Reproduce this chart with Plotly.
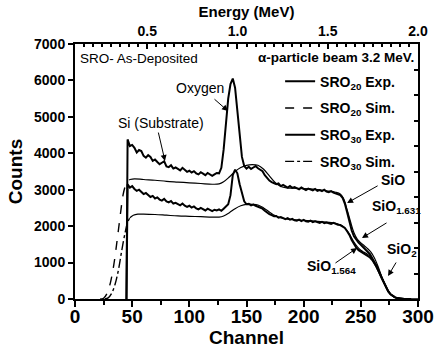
import plotly.graph_objects as go

# ---------------- data ----------------
exp_ch = [45] + list(range(46, 296, 2))

sro20_exp = [0,
    # 46-124
    4380, 4200, 4230, 4150, 4020, 4090, 4060, 3930, 3880, 3950,
    3900, 3790, 3830, 3760, 3700, 3740, 3780, 3640, 3620, 3670,
    3580, 3610, 3560, 3530, 3600, 3540, 3490, 3520, 3470, 3510,
    3450, 3420, 3480, 3440, 3400, 3460, 3430, 3380, 3420, 3460,
    # 126-144
    3450, 3600, 4100, 4900, 5500, 5900, 6050, 5800, 5100, 4400,
    # 146-164
    3900, 3650, 3580, 3630, 3570, 3610, 3650, 3590, 3560, 3510,
    # 166-230
    3400, 3310, 3250, 3210, 3190, 3150, 3170, 3100, 3130, 3090,
    3060, 3100, 3050, 3070, 3030, 3010, 3060, 3020, 2990, 3030,
    3000, 2980, 3020, 2970, 2990, 2960, 3000, 2950, 2930, 2960,
    2920, 2900, 2880,
    # 232-294
    2850, 2780, 2620, 2380, 2100, 1880, 1720, 1620, 1550, 1490,
    1430, 1370, 1310, 1230, 1120, 1000, 870, 730, 590, 450,
    320, 210, 130, 80, 45, 25, 12, 5, 2, 0, 0, 0]

sro30_exp = [0,
    # 46-124
    3150, 3060, 3100, 3020, 2970, 3000, 2930, 2880, 2910, 2860,
    2800, 2830, 2760, 2790, 2730, 2700, 2750, 2680, 2650, 2690,
    2620, 2640, 2600, 2570, 2620, 2560, 2530, 2560, 2510, 2540,
    2490, 2460, 2500, 2470, 2430, 2480, 2440, 2410, 2450, 2430,
    # 126-144
    2460, 2420, 2480, 2530, 2600, 2850, 3400, 3550, 3450, 3150,
    # 146-164
    2880, 2680, 2600, 2610, 2570, 2590, 2560, 2530, 2520, 2480,
    # 166-230
    2420, 2370, 2330, 2300, 2270, 2280, 2230, 2250, 2210, 2190,
    2220, 2180, 2200, 2160, 2150, 2180, 2140, 2170, 2130, 2120,
    2150, 2110, 2130, 2100, 2090, 2120, 2080, 2100, 2070, 2060,
    2090, 2060, 2040,
    # 232-294
    2030, 2000, 1950, 1860, 1760, 1620, 1500, 1410, 1340, 1300,
    1260, 1230, 1190, 1140, 1070, 980, 870, 730, 590, 450,
    320, 210, 130, 80, 45, 25, 12, 5, 2, 0, 0, 0]

sro20_sim_ch = [22, 25, 28, 31, 34, 37, 40, 42, 44, 46, 48, 52, 60, 70, 80, 90,
                100, 110, 120, 126, 130, 135, 140, 145, 150, 155, 160, 165, 170,
                175, 180, 185, 190, 200, 210, 220, 228, 232, 235, 238, 241, 244,
                247, 250, 253, 256, 259, 262, 265, 268, 271, 274, 277, 280, 284,
                290, 300]
sro20_sim = [0, 20, 150, 450, 950, 1650, 2400, 2850, 3100, 3230, 3280, 3300, 3280,
             3260, 3230, 3210, 3190, 3170, 3150, 3160, 3220, 3350, 3500, 3610,
             3670, 3690, 3670, 3560, 3380, 3200, 3090, 3050, 3040, 3030, 3010,
             2970, 2930, 2880, 2750, 2450, 2120, 1820, 1640, 1540, 1460, 1380,
             1280, 1120, 900, 640, 400, 220, 100, 40, 10, 0, 0]

sro30_sim_ch = [26, 29, 32, 35, 38, 41, 44, 46, 48, 51, 55, 60, 70, 80, 90, 100,
                110, 120, 126, 130, 135, 140, 145, 150, 155, 160, 165, 170, 175,
                180, 185, 190, 200, 210, 220, 228, 232, 235, 238, 241, 244, 247,
                250, 253, 256, 259, 262, 265, 268, 271, 274, 277, 280, 284, 290, 300]
sro30_sim = [0, 30, 150, 400, 800, 1350, 1850, 2100, 2230, 2300, 2330, 2330, 2320,
             2300, 2280, 2270, 2260, 2250, 2250, 2280, 2370, 2480, 2560, 2600,
             2600, 2580, 2500, 2390, 2290, 2230, 2200, 2180, 2160, 2140, 2110,
             2080, 2040, 1980, 1880, 1730, 1560, 1430, 1340, 1280, 1220, 1150,
             1020, 850, 620, 400, 220, 100, 40, 10, 0, 0]

rise_end = 48  # simulated edge drawn dashed up to this channel

x_ticks = [0, 50, 100, 150, 200, 250, 300]
y_ticks = [0, 1000, 2000, 3000, 4000, 5000, 6000, 7000]
e_ticks = [0.5, 1.0, 1.5, 2.0]
e_range = [0.1, 2.0]

FONT = "Liberation Sans, Arial, sans-serif"

def split(ch, v, edge):
    a = [(c, y) for c, y in zip(ch, v) if c <= edge]
    b = [(c, y) for c, y in zip(ch, v) if c >= edge]
    return ([p[0] for p in a], [p[1] for p in a]), ([p[0] for p in b], [p[1] for p in b])

fig = go.Figure()

fig.add_trace(go.Scatter(x=exp_ch, y=sro20_exp, mode="lines",
                         line=dict(color="black", width=2),
                         name="<b>SRO<sub>20</sub> Exp.</b>", legendgroup="a"))
(r_x, r_y), (p_x, p_y) = split(sro20_sim_ch, sro20_sim, rise_end)
fig.add_trace(go.Scatter(x=r_x, y=r_y, mode="lines", line_shape="spline",
                         line=dict(color="black", width=1.4, dash="dash"),
                         name="<b>SRO<sub>20</sub> Sim.</b>", legendgroup="b"))
fig.add_trace(go.Scatter(x=p_x, y=p_y, mode="lines", line_shape="spline",
                         line=dict(color="black", width=1.2),
                         showlegend=False, legendgroup="b"))
fig.add_trace(go.Scatter(x=exp_ch, y=sro30_exp, mode="lines",
                         line=dict(color="black", width=2),
                         name="<b>SRO<sub>30</sub> Exp.</b>", legendgroup="c"))
(r_x, r_y), (p_x, p_y) = split(sro30_sim_ch, sro30_sim, rise_end)
fig.add_trace(go.Scatter(x=r_x, y=r_y, mode="lines", line_shape="spline",
                         line=dict(color="black", width=1.4, dash="dashdot"),
                         name="<b>SRO<sub>30</sub> Sim.</b>", legendgroup="d"))
fig.add_trace(go.Scatter(x=p_x, y=p_y, mode="lines", line_shape="spline",
                         line=dict(color="black", width=1.2),
                         showlegend=False, legendgroup="d"))

# helper trace so the top/right axes are drawn
fig.add_trace(go.Scatter(x=e_range, y=[None, None], xaxis="x2", yaxis="y2",
                         mode="lines", showlegend=False, hoverinfo="skip"))

axis_common = dict(showline=True, linecolor="black", linewidth=2, showgrid=False,
                   zeroline=False, tickcolor="black", tickwidth=1.5, automargin=False)

fig.update_layout(
    width=436, height=349,
    margin=dict(l=75, r=18, t=44, b=50),
    paper_bgcolor="white", plot_bgcolor="white",
    font=dict(family=FONT, color="black"),
    xaxis=dict(range=[0, 300], tickvals=x_ticks, ticks="outside", ticklen=6,
               ticklabelstandoff=-7,
               minor=dict(dtick=25, ticks="outside", ticklen=4, tickcolor="black"),
               tickfont=dict(size=19, weight="bold", family=FONT),
               title=dict(text="<b>Channel</b>", font=dict(size=19, family=FONT), standoff=0),
               **axis_common),
    yaxis=dict(range=[0, 7000], tickvals=y_ticks, ticks="outside", ticklen=5,
               tickfont=dict(size=14, weight="bold", family=FONT),
               title=dict(text="<b>Counts</b>", font=dict(size=19, family=FONT), standoff=6),
               **axis_common),
    xaxis2=dict(range=e_range, overlaying="x", side="top", tickvals=e_ticks,
                tickformat=".1f", ticks="inside", ticklen=5,
                minor=dict(dtick=0.05, ticks="inside", ticklen=3, tickcolor="black"),
                tickfont=dict(size=14, weight="bold", family=FONT),
                title=dict(text="<b>Energy (MeV)</b>", font=dict(size=15, family=FONT), standoff=2),
                **axis_common),
    yaxis2=dict(range=[0, 7000], overlaying="y", side="right", dtick=700,
                ticks="inside", ticklen=4, showticklabels=False, **axis_common),
    legend=dict(x=0.598, xanchor="left", y=0.915, yanchor="top",
                bgcolor="rgba(0,0,0,0)", borderwidth=0, tracegroupgap=5.5,
                font=dict(size=14, family=FONT, color="black")),
)

def label(text, x, y, size=14, xanchor="center", yanchor="middle"):
    fig.add_annotation(x=x, y=y, xref="x", yref="y", text=text, showarrow=False,
                       font=dict(size=size, family=FONT, color="black"),
                       xanchor=xanchor, yanchor=yanchor)

def arrow(x0, y0, x1, y1):
    fig.add_annotation(x=x1, y=y1, ax=x0, ay=y0, xref="x", yref="y", axref="x", ayref="y",
                       text="", showarrow=True, arrowhead=2, arrowsize=1.2,
                       arrowwidth=1, arrowcolor="black")

label("SRO- As-Deposited", 2.6, 6615, size=13.5, xanchor="left")
label("<b>α-particle beam 3.2 MeV.</b>", 298, 6640, size=13.5, xanchor="right")
label("Oxygen", 109, 5790)
arrow(120.7, 5520, 133.8, 5160)
label("Si (Substrate)", 75.2, 4830)
arrow(72.6, 4610, 78.7, 3790)
label("<b>SiO</b>", 278, 3270)
arrow(266, 3130, 238, 2635)
label("<b>SiO<sub>1.631</sub></b>", 258, 2525, xanchor="left")
arrow(273.8, 2114, 251, 1675)
label("<b>SiO<sub>1.564</sub></b>", 201, 878, xanchor="left")
arrow(226.5, 960, 246.7, 1400)
label("<b>SiO<sub>2</sub></b>", 271, 1345, xanchor="left")
arrow(281.6, 1043, 273.8, 631)

fig.write_html("out.html")
